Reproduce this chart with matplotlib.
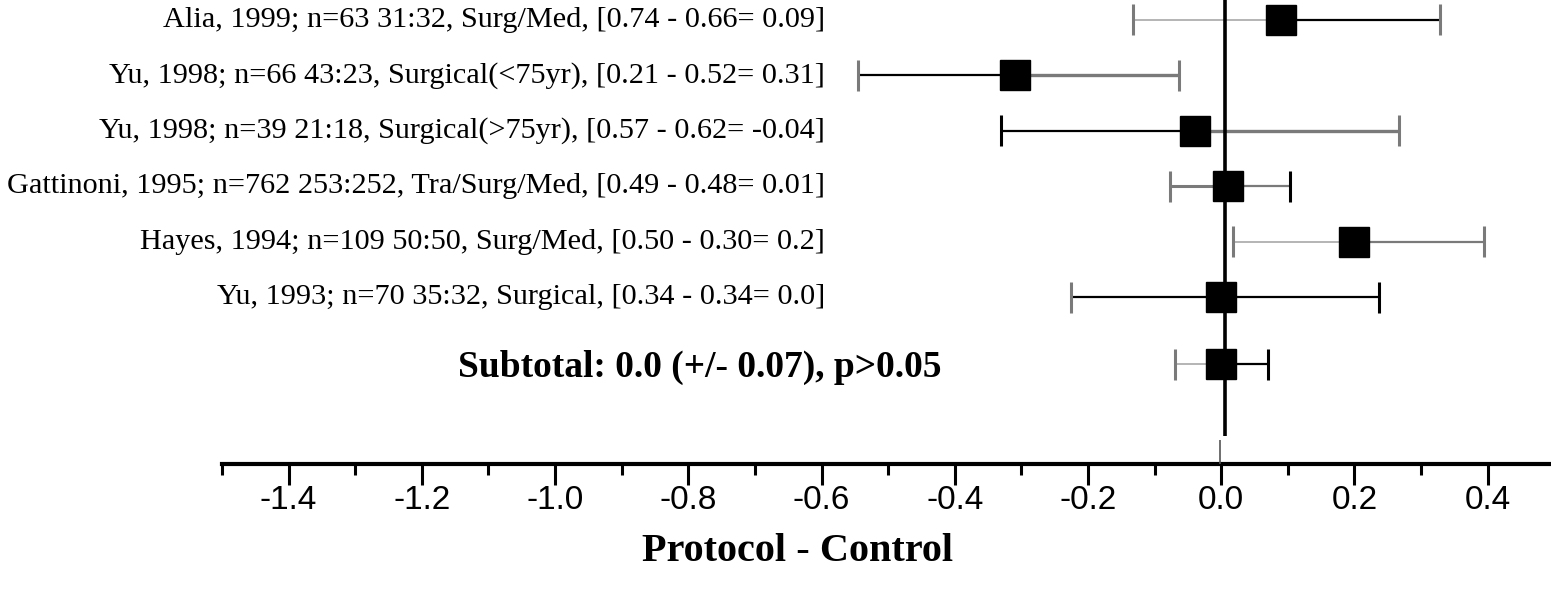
import matplotlib.pyplot as plt

# study rows (top to bottom)
labels = [
    "Alia, 1999; n=63 31:32, Surg/Med, [0.74 - 0.66= 0.09]",
    "Yu, 1998; n=66 43:23, Surgical(<75yr), [0.21 - 0.52= 0.31]",
    "Yu, 1998; n=39 21:18, Surgical(>75yr), [0.57 - 0.62= -0.04]",
    "Gattinoni, 1995; n=762 253:252, Tra/Surg/Med, [0.49 - 0.48= 0.01]",
    "Hayes, 1994; n=109 50:50, Surg/Med, [0.50 - 0.30= 0.2]",
    "Yu, 1993; n=70 35:32, Surgical, [0.34 - 0.34= 0.0]",
]
est = [0.09, -0.31, -0.04, 0.01, 0.2, 0.0]
lo = [-0.133, -0.545, -0.33, -0.077, 0.018, -0.225]
hi = [0.328, -0.063, 0.267, 0.103, 0.395, 0.237]

subtotal_est = 0.0
subtotal_err = 0.07
subtotal_p = "p>0.05"

ticks = [-1.4, -1.2, -1.0, -0.8, -0.6, -0.4, -0.2, 0.0, 0.2, 0.4]

# line colours for the left / right arm of each bar
BLK, GRY, LGR = "#000000", "#7a7a7a", "#a8a8a8"
arm_style = [
    ((LGR, 1.2), (BLK, 1.6)),
    ((BLK, 1.6), (GRY, 2.4)),
    ((BLK, 1.6), (GRY, 2.4)),
    ((GRY, 2.2), (GRY, 1.6)),
    ((LGR, 1.2), (GRY, 1.6)),
    ((BLK, 1.6), (BLK, 1.6)),
]
cap_style = [
    (GRY, GRY), (GRY, GRY), (BLK, GRY), (GRY, BLK), (GRY, GRY), (GRY, BLK),
]

fig = plt.figure(figsize=(15.51, 5.91), dpi=100)
ax = fig.add_axes([222 / 1551, 1 - 464 / 591, 1 - 222 / 1551, 464 / 591])

ys = list(range(len(labels)))
sub_y = 6.21
cap_h = 0.28


def draw_bar(y, x, x0, x1, arms, caps, ms=21):
    (lc, lw), (rc, rw) = arms
    ax.hlines(y, x0, x, color=lc, lw=lw, zorder=2)
    ax.hlines(y, x, x1, color=rc, lw=rw, zorder=2)
    ax.vlines(x0, y - cap_h, y + cap_h, color=caps[0], lw=2.2, zorder=2)
    ax.vlines(x1, y - cap_h, y + cap_h, color=caps[1], lw=2.2, zorder=2)
    ax.plot([x], [y], marker="s", ms=ms, color="black", zorder=4)


for i, y in enumerate(ys):
    draw_bar(y, est[i], lo[i], hi[i], arm_style[i], cap_style[i])
    ax.text(-0.595, y, labels[i], ha="right", va="center", fontsize=21.8,
            family="Liberation Serif", clip_on=False)

draw_bar(sub_y, subtotal_est, subtotal_est - subtotal_err,
         subtotal_est + subtotal_err, ((LGR, 1.2), (BLK, 1.6)), (GRY, BLK))
ax.text(-0.42, sub_y + 0.05,
        f"Subtotal: {subtotal_est:.1f} (+/- {subtotal_err:.2f}), {subtotal_p}",
        ha="right", va="center", fontsize=27, fontweight="bold",
        family="Liberation Serif")

# vertical reference line at zero
ax.vlines(0.006, -0.5, 7.5, color="black", lw=2.6, zorder=3)
ax.vlines(-0.002, 7.58, 8.05, color="#555555", lw=1.2, zorder=3)

ax.set_xlim(-1.5, 0.495)
ax.set_ylim(8.01, -0.36)

for s in ["top", "right", "left"]:
    ax.spines[s].set_visible(False)
ax.spines["bottom"].set_linewidth(3)
ax.set_yticks([])
ax.set_xticks(ticks)
ax.set_xticklabels([f"{t:.1f}" for t in ticks], family="Liberation Sans",
                   fontsize=24)
ax.set_xticks([t + 0.1 for t in [-1.6] + ticks if t + 0.1 < 0.49], minor=True)
ax.tick_params(axis="x", which="major", length=15, width=2.2, pad=0)
ax.tick_params(axis="x", which="minor", length=8, width=2.2)
ax.set_xlabel("Protocol - Control", family="Liberation Serif",
              fontweight="bold", fontsize=29)
ax.xaxis.set_label_coords((798 - 222) / (1551 - 222), -0.148)

fig.savefig("out.png", dpi=100)
